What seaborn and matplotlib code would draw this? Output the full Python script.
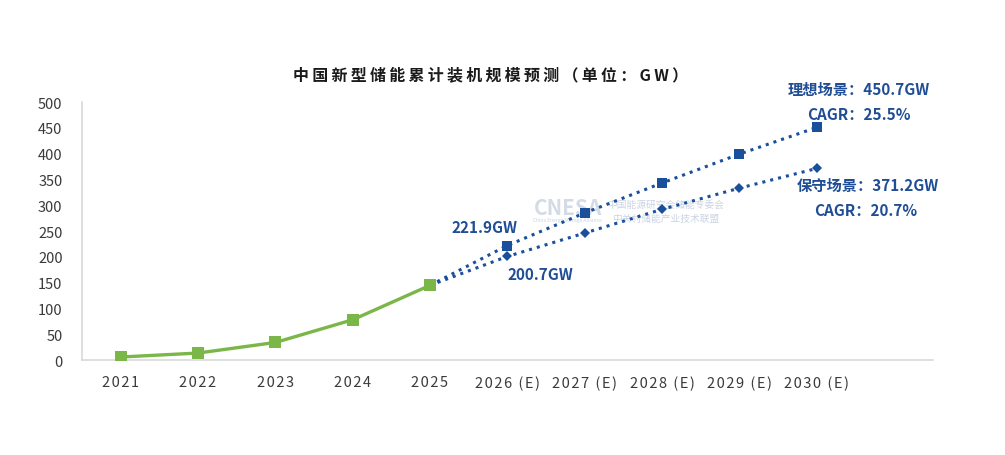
import numpy as np
import pandas as pd
import seaborn as sns
from matplotlib import pyplot as plt

# 数据
years = ["2021", "2022", "2023", "2024", "2025",
         "2026 (E)", "2027 (E)", "2028 (E)", "2029 (E)", "2030 (E)"]
actual = [5.8, 13.5, 34.0, 78.0, 144.7]
ideal = [144.7, 221.9, 285.0, 343.0, 399.0, 450.7]
conservative = [144.7, 200.7, 246.0, 292.0, 333.0, 371.2]

GREEN = "#7AB648"
BLUE = "#1A4F9C"
TEXT_BLUE = "#1F4E96"


def spaced(s, sep="\u200a"):
    # 模拟字间距
    return sep.join(s)


sns.set_theme(style="white")
plt.rcParams["font.family"] = ["Noto Sans CJK SC", "DejaVu Sans"]

df_act = pd.DataFrame({"x": np.arange(len(actual)), "y": actual})
df_ideal = pd.DataFrame({"x": np.arange(4, 4 + len(ideal)), "y": ideal})
df_cons = pd.DataFrame({"x": np.arange(4, 4 + len(conservative)), "y": conservative})

fig = plt.figure(figsize=(10.05, 4.56), dpi=100)
ax = fig.add_axes([0.0816, 0.2083, 0.8464, 0.5658])

sns.lineplot(data=df_ideal, x="x", y="y", ax=ax, color=BLUE, linestyle=":",
             linewidth=2.2, marker="s", markersize=7, markeredgewidth=0, zorder=3)
sns.lineplot(data=df_cons, x="x", y="y", ax=ax, color=BLUE, linestyle=":",
             linewidth=2.2, marker="D", markersize=5, markeredgewidth=0, zorder=3)
sns.lineplot(data=df_act, x="x", y="y", ax=ax, color=GREEN, linewidth=2.4,
             marker="s", markersize=8, markeredgewidth=0, zorder=4)

ax.set_xlim(-0.5, 10.5)
ax.set_ylim(0, 500)
ax.set_yticks(range(0, 501, 50))
ax.set_xticks(range(len(years)))
ax.set_xticklabels([spaced(y) for y in years])
ax.set_xlabel("")
ax.set_ylabel("")
ax.tick_params(axis="both", length=0, labelsize=10.5, labelcolor="#3A3A3A")
ax.tick_params(axis="y", pad=14)
ax.tick_params(axis="x", pad=11)

sns.despine(ax=ax)
for s in ["left", "bottom"]:
    ax.spines[s].set_color("#D9D9D9")
    ax.spines[s].set_linewidth(1.2)

fig.text(0.488, 0.836, spaced("中国新型储能累计装机规模预测（单位：GW）", "\u2009"),
         ha="center", va="center", fontsize=11.5, fontweight="bold", color="#1A1A1A")

# 水印
ax.text(5.78, 295, "CNESA", ha="center", va="center", fontsize=15,
        fontweight="bold", color="#C8D2E2", alpha=0.8, zorder=1)
ax.text(5.78, 272, "China Energy Storage Alliance", ha="center", va="center",
        fontsize=3.5, color="#C8D2E2", zorder=1)
ax.text(7.05, 302, "中国能源研究会储能专委会", ha="center", va="center",
        fontsize=7, color="#CBD4E4", zorder=1)
ax.text(7.05, 276, "中关村储能产业技术联盟", ha="center", va="center",
        fontsize=7, color="#CBD4E4", zorder=1)

# 标注
kw = dict(ha="center", va="center", fontsize=11, fontweight="bold",
          color=TEXT_BLUE, clip_on=False)
ax.text(4.71, 258, "221.9GW", **kw)
ax.text(5.43, 167, "200.7GW", **kw)
ax.text(9.55, 525, "理想场景：450.7GW", **kw)
ax.text(9.55, 477, "CAGR：25.5%", **kw)
ax.text(9.66, 340, "保守场景：371.2GW", **kw)
ax.text(9.63, 290, "CAGR：20.7%", **kw)

fig.savefig("out.png", dpi=100)
